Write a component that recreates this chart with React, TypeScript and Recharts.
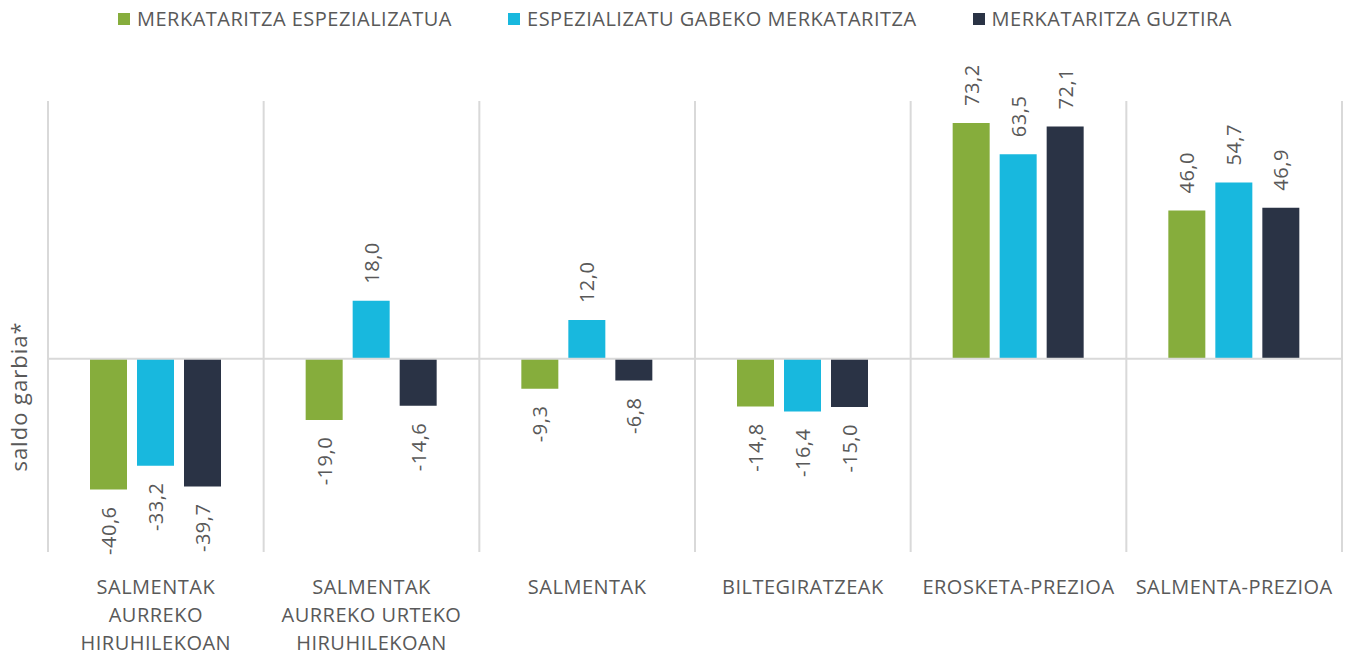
import { BarChart, Bar, XAxis, YAxis, CartesianGrid, ReferenceLine, LabelList } from "recharts";

const categories = [
  "SALMENTAK AURREKO HIRUHILEKOAN",
  "SALMENTAK AURREKO URTEKO HIRUHILEKOAN",
  "SALMENTAK",
  "BILTEGIRATZEAK",
  "EROSKETA-PREZIOA",
  "SALMENTA-PREZIOA",
];

// tick labels, broken into lines like the original
const categoryLines = [
  ["SALMENTAK", "AURREKO", "HIRUHILEKOAN"],
  ["SALMENTAK", "AURREKO URTEKO", "HIRUHILEKOAN"],
  ["SALMENTAK"],
  ["BILTEGIRATZEAK"],
  ["EROSKETA-PREZIOA"],
  ["SALMENTA-PREZIOA"],
];

const espezializatua = [-40.6, -19.0, -9.3, -14.8, 73.2, 46.0];
const ezEspezializatua = [-33.2, 18.0, 12.0, -16.4, 63.5, 54.7];
const guztira = [-39.7, -14.6, -6.8, -15.0, 72.1, 46.9];

const seriesNames = [
  "MERKATARITZA ESPEZIALIZATUA",
  "ESPEZIALIZATU GABEKO MERKATARITZA",
  "MERKATARITZA GUZTIRA",
];
const colors = ["#86ad3c", "#18b8de", "#2a3345"];

const data = categories.map((name, i) => ({
  name,
  lines: categoryLines[i],
  a: espezializatua[i],
  b: ezEspezializatua[i],
  c: guztira[i],
}));

const FONT = "'Open Sans', sans-serif";
const TEXT = "#595959";

const fmt = (v: number) => v.toFixed(1).replace(".", ",");

const ValueLabel = (props: any) => {
  const { x, y, width, height, value } = props;
  const cx = x + width / 2;
  const top = Math.min(y, y + height);
  const bottom = Math.max(y, y + height);
  const pos = value >= 0;
  const ay = pos ? top - 17 : bottom + 17;
  return (
    <text
      x={cx}
      y={ay}
      transform={`rotate(-90, ${cx}, ${ay})`}
      textAnchor={pos ? "start" : "end"}
      dominantBaseline="central"
      fill={TEXT}
      fontSize={20}
      letterSpacing={0.5}
      fontFamily={FONT}
    >
      {fmt(value)}
    </text>
  );
};

const CategoryTick = (props: any) => {
  const { x, y, payload, index } = props;
  const lines = data[index]?.lines ?? [payload.value];
  return (
    <text x={x} y={y + 40} textAnchor="middle" fill={TEXT} fontSize={20} letterSpacing={0.5} fontFamily={FONT}>
      {lines.map((l: string, i: number) => (
        <tspan key={i} x={x} dy={i === 0 ? 0 : 28}>
          {l}
        </tspan>
      ))}
    </text>
  );
};

const App = () => {
  return (
    <div style={{ position: "absolute", left: 0, top: 0, width: 1350, height: 655, background: "#fff" }}>
      <div
        style={{
          position: "absolute",
          top: 6,
          left: 0,
          width: 1350,
          display: "flex",
          justifyContent: "center",
          gap: 56,
          fontFamily: FONT,
          fontSize: 20,
          letterSpacing: 0.5,
          color: TEXT,
          lineHeight: "26px",
        }}
      >
        {seriesNames.map((n, i) => (
          <div key={n} style={{ display: "flex", alignItems: "center" }}>
            <span style={{ width: 12, height: 12, background: colors[i], marginRight: 7, display: "inline-block" }} />
            <span>{n}</span>
          </div>
        ))}
      </div>
      <BarChart
        width={1350}
        height={655}
        data={data}
        margin={{ top: 101, right: 8, bottom: 3, left: 0 }}
        barSize={37}
        barGap={10}
      >
        <CartesianGrid
          horizontal={false}
          stroke="#d9d9d9"
          strokeWidth={2}
          verticalCoordinatesGenerator={({ offset }: any) =>
            Array.from({ length: categories.length + 1 }, (_, i) => offset.left + (offset.width * i) / categories.length)
          }
        />
        <XAxis
          dataKey="name"
          height={100}
          axisLine={false}
          tickLine={false}
          tickSize={0}
          interval={0}
          tick={<CategoryTick />}
        />
        <YAxis
          domain={[-60, 80]}
          width={48}
          tick={false}
          axisLine={false}
          tickLine={false}
          label={{
            content: ({ viewBox }: any) => {
              const lx = viewBox.x + 18;
              const ly = viewBox.y + viewBox.height / 2 + 70;
              return (
                <text
                  x={lx}
                  y={ly}
                  transform={`rotate(-90, ${lx}, ${ly})`}
                  textAnchor="middle"
                  dominantBaseline="central"
                  fill={TEXT}
                  fontSize={22}
                  letterSpacing={1}
                  fontFamily={FONT}
                >
                  saldo garbia*
                </text>
              );
            },
          }}
        />
        <ReferenceLine y={0} stroke="#d9d9d9" strokeWidth={2} />
        <Bar dataKey="a" name={seriesNames[0]} fill={colors[0]} isAnimationActive={false}>
          <LabelList dataKey="a" content={<ValueLabel />} />
        </Bar>
        <Bar dataKey="b" name={seriesNames[1]} fill={colors[1]} isAnimationActive={false}>
          <LabelList dataKey="b" content={<ValueLabel />} />
        </Bar>
        <Bar dataKey="c" name={seriesNames[2]} fill={colors[2]} isAnimationActive={false}>
          <LabelList dataKey="c" content={<ValueLabel />} />
        </Bar>
      </BarChart>
    </div>
  );
};

export default App;
